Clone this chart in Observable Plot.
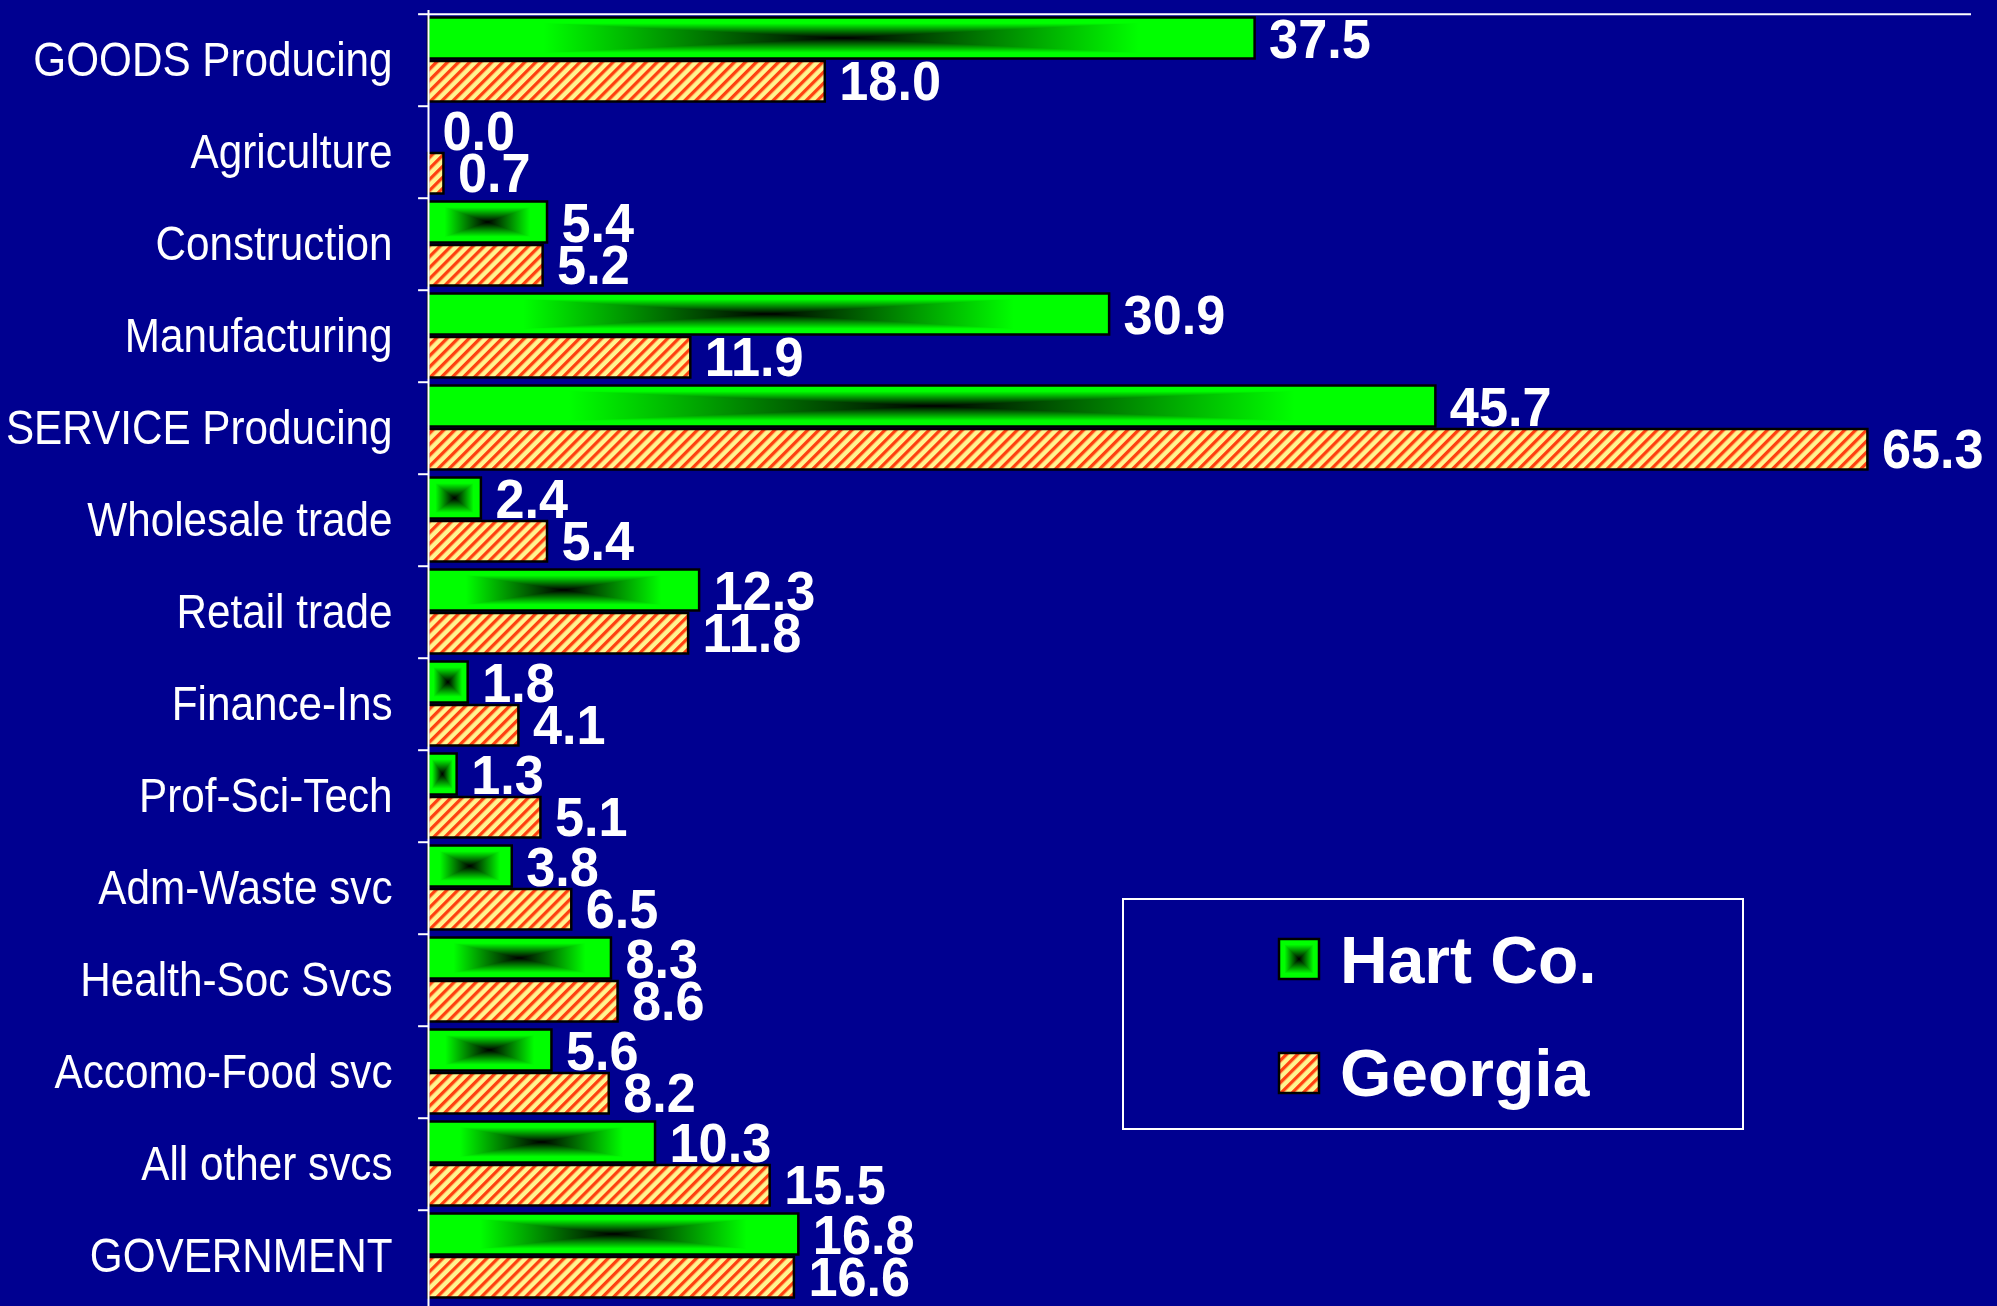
<!DOCTYPE html>
<html>
<head>
<meta charset="utf-8">
<script src="https://cdn.jsdelivr.net/npm/d3@7"></script>
<script src="https://cdn.jsdelivr.net/npm/@observablehq/plot@0.6"></script>
<style>
html, body { margin: 0; padding: 0; background: #000090; overflow: hidden; }
#wrap { position: relative; width: 1997px; height: 1306px; }
#legend { position: absolute; left: 0; top: 0; pointer-events: none; }
</style>
</head>
<body>
<svg width="0" height="0" style="position:absolute">
  <defs>
    <linearGradient id="gH" x1="0" y1="0" x2="1" y2="0">
      <stop offset="0" stop-color="#00ff00"/>
      <stop offset="0.14" stop-color="#00ff00"/>
      <stop offset="0.5" stop-color="#000000"/>
      <stop offset="0.86" stop-color="#00ff00"/>
      <stop offset="1" stop-color="#00ff00"/>
    </linearGradient>
    <linearGradient id="gV" x1="0" y1="0" x2="0" y2="1">
      <stop offset="0" stop-color="#00ff00"/>
      <stop offset="0.14" stop-color="#00ff00"/>
      <stop offset="0.5" stop-color="#000000"/>
      <stop offset="0.86" stop-color="#00ff00"/>
      <stop offset="1" stop-color="#00ff00"/>
    </linearGradient>
    <pattern id="hatch" patternUnits="userSpaceOnUse" width="7.8" height="7.8" patternTransform="rotate(45)">
      <rect width="7.8" height="7.8" fill="#fff590"/>
      <rect width="3.3" height="7.8" fill="#ff4010"/>
    </pattern>
  </defs>
</svg>
<div id="wrap"></div>
<script>
const categories = ["GOODS Producing", "Agriculture", "Construction", "Manufacturing",
  "SERVICE Producing", "Wholesale trade", "Retail trade", "Finance-Ins", "Prof-Sci-Tech",
  "Adm-Waste svc", "Health-Soc Svcs", "Accomo-Food svc", "All other svcs", "GOVERNMENT"];
const hartValues = [37.5, 0.0, 5.4, 30.9, 45.7, 2.4, 12.3, 1.8, 1.3, 3.8, 8.3, 5.6, 10.3, 16.8];
const georgiaValues = [18.0, 0.7, 5.2, 11.9, 65.3, 5.4, 11.8, 4.1, 5.1, 6.5, 8.6, 8.2, 15.5, 16.6];
const seriesNames = ["Hart Co.", "Georgia"];
const xDomain = [0, 70];

const hart = categories.map((c, i) => ({category: c, value: hartValues[i]}));
const georgia = categories.map((c, i) => ({category: c, value: georgiaValues[i]}));

const W = 1997, H = 1306, mTop = 10;
const step = (H - mTop) / categories.length;
const font = '"Liberation Sans", Arial, Helvetica, sans-serif';

const greenInset = {insetTop: 3.5, insetBottom: 47.5};
const orangeInset = {insetTop: 47, insetBottom: 4.5};

const chart = Plot.plot({
  width: W, height: H,
  marginLeft: 428, marginRight: 26, marginTop: mTop, marginBottom: 0,
  style: {background: "#000090", color: "white", fontFamily: font},
  x: {domain: xDomain, axis: null},
  y: {domain: categories, padding: 0},
  marks: [
    Plot.barX(georgia, {x: "value", y: "category", fill: "url(#hatch)", stroke: "black", strokeWidth: 2.5, ...orangeInset}),
    Plot.barX(hart, {x: "value", y: "category", fill: "url(#gH)", ...greenInset}),
    Plot.barX(hart, {x: "value", y: "category", fill: "url(#gV)", mixBlendMode: "lighten", ...greenInset}),
    Plot.barX(hart, {x: "value", y: "category", fill: "none", stroke: "black", strokeWidth: 2.5, ...greenInset}),
    Plot.ruleX([0], {stroke: "white", strokeWidth: 2}),
    Plot.ruleY(categories, {y: d => d, x1: -0.45, x2: 0, dy: -step / 2, stroke: "white", strokeWidth: 2}),
    Plot.ruleY(categories.slice(0, 1), {y: d => d, x1: xDomain[0], x2: xDomain[1], dy: -step / 2, stroke: "white", strokeWidth: 2}),
    Plot.axisY({tickSize: 0, tickPadding: 36, fontSize: 48, label: null, fill: "white"}),
    Plot.text(hart, {x: "value", y: "category", text: d => d.value.toFixed(1), dx: 14, dy: -20,
      textAnchor: "start", fill: "white", fontSize: 55, fontWeight: "bold"}),
    Plot.text(georgia, {x: "value", y: "category", text: d => d.value.toFixed(1), dx: 14, dy: 22,
      textAnchor: "start", fill: "white", fontSize: 55, fontWeight: "bold"})
  ]
});
document.getElementById("wrap").appendChild(chart);

// condense glyphs horizontally (the reference uses a narrower face)
function condense(sel, k) {
  chart.querySelectorAll(sel).forEach(t => {
    const len = t.getComputedTextLength();
    if (len > 0) {
      t.setAttribute("textLength", (len * k).toFixed(1));
      t.setAttribute("lengthAdjust", "spacingAndGlyphs");
    }
  });
}
condense('g[aria-label="y-axis tick label"] text', 0.88);
condense('g[aria-label="text"] text', 0.95);

// Legend overlay
const ns = "http://www.w3.org/2000/svg";
const lg = document.createElementNS(ns, "svg");
lg.setAttribute("id", "legend");
lg.setAttribute("width", W);
lg.setAttribute("height", H);
function el(tag, attrs, parent) {
  const e = document.createElementNS(ns, tag);
  for (const k in attrs) e.setAttribute(k, attrs[k]);
  (parent || lg).appendChild(e);
  return e;
}
el("rect", {x: 1123, y: 899, width: 620, height: 230, fill: "none", stroke: "white", "stroke-width": 2});
el("rect", {x: 1279, y: 939, width: 40, height: 40, fill: "url(#gH)"});
el("rect", {x: 1279, y: 939, width: 40, height: 40, fill: "url(#gV)", style: "mix-blend-mode:lighten"});
el("rect", {x: 1279, y: 939, width: 40, height: 40, fill: "none", stroke: "black", "stroke-width": 2.5});
el("rect", {x: 1279, y: 1053, width: 40, height: 40, fill: "url(#hatch)", stroke: "black", "stroke-width": 2.5});
const t1 = el("text", {x: 1340, y: 983, fill: "white", "font-size": 66, "font-weight": "bold", "font-family": font});
t1.textContent = seriesNames[0];
const t2 = el("text", {x: 1340, y: 1096, fill: "white", "font-size": 66, "font-weight": "bold", "font-family": font});
t2.textContent = seriesNames[1];
document.getElementById("wrap").appendChild(lg);
</script>
</body>
</html>
